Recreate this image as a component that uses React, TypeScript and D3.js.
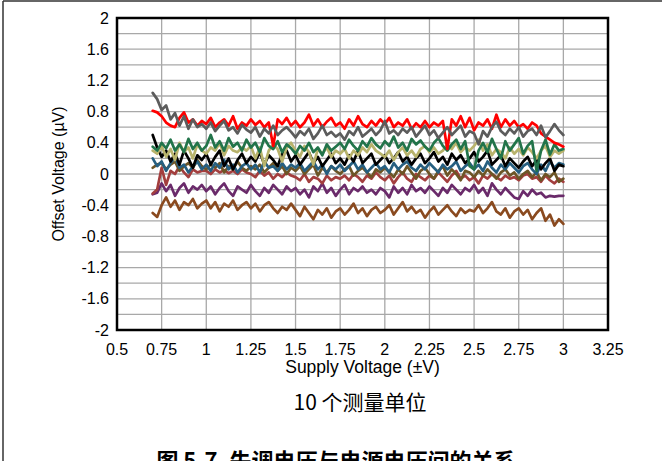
import React from "react";
import * as d3 from "d3";

// Supply voltage sampling (±V): first sample and spacing
const supplyStart = 0.7;
const supplyStep = 0.025;

const xTicks = [0.5, 0.75, 1, 1.25, 1.5, 1.75, 2, 2.25, 2.5, 2.75, 3, 3.25];
const xTickLabels = ["0.5", "0.75", "1", "1.25", "1.5", "1.75", "2", "2.25", "2.5", "2.75", "3", "3.25"];
const yTicks = [2, 1.6, 1.2, 0.8, 0.4, 0, -0.4, -0.8, -1.2, -1.6, -2];
const yTickLabels = ["2", "1.6", "1.2", "0.8", "0.4", "0", "-0.4", "-0.8", "-1.2", "-1.6", "-2"];
const yGridLines = [1.8, 1.6, 1.4, 1.2, 1, 0.8, 0.6, 0.4, 0.2, 0, -0.2, -0.4, -0.6, -0.8, -1, -1.2, -1.4, -1.6, -1.8];

const unitGray = [1.04, 0.96,
  0.82, 0.88, 0.70, 0.78, 0.62, 0.74, 0.58, 0.70, 0.60, 0.64,
  0.58, 0.66, 0.55, 0.62, 0.68, 0.56, 0.60, 0.52, 0.63, 0.57,
  0.53, 0.60, 0.48, 0.58, 0.52, 0.62, 0.50, 0.56, 0.60, 0.54,
  0.47, 0.55, 0.50, 0.58, 0.45, 0.52, 0.62, 0.50, 0.54, 0.48,
  0.52, 0.44, 0.55, 0.50, 0.60, 0.48, 0.53, 0.58, 0.50, 0.56,
  0.68, 0.52, 0.56, 0.50, 0.58, 0.53, 0.60, 0.48, 0.55, 0.62,
  0.50, 0.56, 0.46, 0.53, 0.60, 0.50, 0.56, 0.62, 0.48, 0.55,
  0.52, 0.38, 0.55, 0.48, 0.60, 0.67, 0.55, 0.50, 0.58, 0.52,
  0.60, 0.48, 0.55, 0.58, 0.50, 0.62, 0.47, 0.55, 0.64, 0.56,
  0.50];
const unitRed = [0.81, 0.79,
  0.74, 0.66, 0.62, 0.60, 0.72, 0.79, 0.66, 0.70, 0.62, 0.68,
  0.64, 0.72, 0.60, 0.66, 0.70, 0.62, 0.74, 0.58, 0.66, 0.62,
  0.70, 0.63, 0.68, 0.60, 0.66, 0.36, 0.70, 0.64, 0.72, 0.62,
  0.68, 0.60, 0.66, 0.76, 0.62, 0.70, 0.60, 0.67, 0.72, 0.62,
  0.66, 0.58, 0.70, 0.62, 0.74, 0.64, 0.60, 0.68, 0.62, 0.70,
  0.64, 0.72, 0.60, 0.66, 0.62, 0.70, 0.58, 0.65, 0.60, 0.68,
  0.60, 0.66, 0.62, 0.68, 0.32, 0.70, 0.62, 0.74, 0.60, 0.72,
  0.56, 0.66, 0.62, 0.70, 0.58, 0.76, 0.60, 0.70, 0.62, 0.68,
  0.60, 0.64, 0.58, 0.66, 0.62, 0.52, 0.48, 0.44, 0.40, 0.38,
  0.35];
const unitGreen = [0.35, 0.30,
  0.40, 0.33, 0.44, 0.30, 0.38, 0.28, 0.45, 0.32, 0.40, 0.30,
  0.36, 0.50, 0.34, 0.42, 0.30, 0.46, 0.35, 0.40, 0.30, 0.44,
  0.34, 0.40, 0.28, 0.46, 0.36, 0.32, 0.42, 0.28, 0.38, 0.33,
  0.26, 0.36, 0.30, 0.40, 0.28, 0.34, 0.24, 0.38, 0.30, 0.35,
  0.40, 0.32, 0.44, 0.36, 0.30, 0.42, 0.35, 0.46, 0.38, 0.33,
  0.42, 0.36, 0.48, 0.34, 0.40, 0.30, 0.45, 0.38, 0.43, 0.35,
  0.30, 0.40, 0.46, 0.36, 0.30, 0.38, 0.44, 0.32, 0.42, 0.10,
  0.06, 0.30, 0.40, 0.28, 0.45, 0.32, 0.20, 0.42, 0.30, 0.38,
  0.46, 0.26, 0.36, 0.42, 0.04, 0.30, 0.44, 0.25, 0.38, 0.30,
  0.32];
const unitKhaki = [0.30, 0.26,
  0.36, 0.22, 0.32, 0.18, 0.40, 0.28, 0.34, 0.20, 0.38, 0.30,
  0.26, 0.34, 0.30, 0.40, 0.24, 0.36, 0.30, 0.28, 0.34, 0.30,
  0.36, 0.20, 0.34, 0.10, 0.30, 0.38, 0.32, 0.16, 0.34, 0.40,
  0.30, 0.22, 0.36, 0.28, 0.12, 0.32, 0.26, 0.34, 0.22, 0.30,
  0.26, 0.32, 0.20, 0.30, 0.24, 0.34, 0.28, 0.38, 0.30, 0.26,
  0.22, 0.30, 0.18, 0.28, 0.34, 0.24, 0.30, 0.22, 0.32, 0.36,
  0.28, 0.34, 0.26, 0.30, 0.38, 0.32, 0.40, 0.28, 0.34, 0.30,
  0.36, 0.44, 0.30, 0.38, 0.24, 0.32, 0.28, 0.20, 0.34, 0.26,
  0.32, 0.24, 0.34, 0.28, 0.20, 0.30, 0.36, 0.22, 0.30, 0.26,
  0.30];
const unitBlack = [0.50, 0.34,
  0.22, 0.30, 0.16, 0.26, 0.12, 0.30, 0.20, 0.08, 0.24, 0.18,
  0.26, 0.12, 0.22, 0.30, 0.10, 0.20, 0.06, 0.18, 0.26, 0.14,
  0.22, 0.16, 0.28, 0.12, 0.24, 0.18, 0.10, 0.26, 0.30, 0.16,
  0.24, 0.12, 0.20, 0.28, 0.14, 0.22, 0.10, 0.18, 0.26, 0.14,
  0.20, 0.12, 0.24, 0.16, 0.30, 0.14, 0.20, 0.26, 0.12, 0.18,
  0.24, 0.14, 0.20, 0.28, 0.16, 0.22, 0.12, 0.20, 0.26, 0.14,
  0.20, 0.28, 0.16, 0.22, 0.12, 0.26, 0.18, 0.24, 0.14, 0.20,
  0.28, 0.16, 0.22, 0.30, 0.12, 0.18, 0.24, 0.10, 0.20, 0.14,
  0.08, 0.16, 0.22, 0.10, 0.18, 0.06, 0.14, 0.20, 0.04, 0.12,
  0.10];
const unitTeal = [0.20, 0.10,
  0.16, 0.04, 0.14, 0.22, 0.08, 0.12, 0.02, 0.10, 0.16, 0.06,
  0.12, 0.04, 0.14, 0.08, 0.18, 0.06, 0.12, 0.02, 0.10, 0.14,
  0.06, 0.12, 0.02, 0.16, 0.08, 0.10, 0.04, 0.14, 0.06, 0.12,
  0.08, 0.14, 0.04, 0.10, 0.16, 0.06, 0.12, 0.00, 0.10, 0.06,
  0.12, 0.04, 0.10, 0.16, 0.06, 0.12, 0.02, 0.08, 0.14, 0.06,
  0.10, 0.02, 0.14, 0.06, 0.12, 0.16, 0.08, 0.04, 0.12, 0.06,
  0.14, 0.08, 0.02, 0.12, 0.06, 0.10, 0.16, 0.04, 0.10, 0.14,
  0.06, 0.12, 0.04, 0.16, 0.08, 0.02, 0.12, 0.06, 0.14, 0.08,
  0.02, 0.10, 0.14, 0.06, 0.00, 0.12, 0.04, 0.16, 0.08, 0.14,
  0.12];
const unitOlive = [0.08, 0.12,
  0.14, 0.06, 0.12, 0.16, 0.04, 0.10, 0.14, 0.08, 0.18, 0.10,
  0.06, 0.12, 0.08, 0.14, 0.02, 0.10, 0.06, 0.16, 0.08, 0.04,
  0.10, 0.06, 0.12, 0.02, 0.08, 0.14, 0.04, 0.10, 0.00, 0.08,
  0.04, 0.10, 0.00, 0.06, 0.12, -0.02, 0.08, 0.02, 0.10, 0.04,
  0.00, 0.06, 0.10, -0.02, 0.04, 0.08, 0.02, -0.04, 0.06, 0.02,
  0.08, 0.02, -0.04, 0.06, 0.00, 0.10, 0.02, -0.06, 0.04, 0.08,
  0.00, -0.06, 0.04, 0.10, -0.02, 0.06, 0.00, -0.08, 0.04, 0.02,
  -0.04, 0.04, -0.02, 0.06, 0.00, -0.06, 0.02, 0.06, -0.02, 0.02,
  -0.06, 0.00, 0.04, -0.04, 0.02, -0.08, 0.00, -0.04, 0.02, -0.10,
  -0.06];
const unitMaroon = [-0.25, -0.20,
  0.08, -0.14, 0.04, 0.00, 0.10, 0.02, -0.04, 0.06, 0.02, 0.04,
  0.04, 0.00, 0.06, 0.02, 0.05, 0.01, 0.04, 0.00, 0.06, 0.02,
  0.00, -0.04, 0.04, -0.02, 0.02, -0.06, 0.00, -0.04, 0.02, -0.02,
  -0.04, -0.08, 0.00, -0.10, -0.04, -0.06, -0.12, -0.02, -0.08, -0.04,
  -0.06, -0.02, -0.08, 0.00, -0.04, -0.10, -0.02, -0.06, 0.02, -0.04,
  -0.08, -0.02, -0.12, -0.04, 0.02, -0.06, -0.10, 0.00, -0.04, -0.08,
  -0.02, -0.06, 0.02, -0.04, -0.10, -0.02, 0.04, -0.06, -0.02, -0.08,
  -0.04, -0.12, -0.02, -0.06, 0.00, -0.04, -0.08, -0.02, -0.06, -0.04,
  -0.08, -0.02, 0.00, -0.06, -0.04, -0.10, -0.02, -0.08, -0.12, -0.06,
  -0.10];
const unitPurple = [-0.26, -0.24,
  -0.12, -0.22, -0.14, -0.28, -0.18, -0.12, -0.24, -0.16, -0.20, -0.14,
  -0.22, -0.16, -0.26, -0.18, -0.12, -0.22, -0.28, -0.16, -0.20, -0.24,
  -0.14, -0.22, -0.28, -0.18, -0.24, -0.14, -0.20, -0.26, -0.16, -0.22,
  -0.18, -0.26, -0.20, -0.30, -0.16, -0.22, -0.12, -0.24, -0.18, -0.28,
  -0.20, -0.14, -0.26, -0.18, -0.22, -0.16, -0.24, -0.20, -0.26, -0.18,
  -0.22, -0.30, -0.16, -0.24, -0.18, -0.26, -0.14, -0.22, -0.18, -0.24,
  -0.16, -0.22, -0.28, -0.18, -0.24, -0.14, -0.20, -0.26, -0.18, -0.22,
  -0.14, -0.24, -0.18, -0.28, -0.12, -0.20, -0.26, -0.18, -0.24, -0.30,
  -0.32, -0.22, -0.28, -0.20, -0.26, -0.24, -0.30, -0.28, -0.29, -0.28,
  -0.28];
const unitSienna = [-0.50, -0.55,
  -0.40, -0.30, -0.42, -0.34, -0.46, -0.36, -0.40, -0.32, -0.44, -0.38,
  -0.34, -0.44, -0.36, -0.48, -0.38, -0.42, -0.34, -0.46, -0.40, -0.36,
  -0.44, -0.38, -0.48, -0.40, -0.36, -0.44, -0.50, -0.42, -0.46, -0.38,
  -0.46, -0.54, -0.42, -0.50, -0.58, -0.46, -0.52, -0.44, -0.56, -0.48,
  -0.44, -0.52, -0.46, -0.38, -0.50, -0.44, -0.54, -0.46, -0.42, -0.50,
  -0.46, -0.40, -0.52, -0.44, -0.36, -0.48, -0.42, -0.50, -0.46, -0.56,
  -0.48, -0.42, -0.52, -0.46, -0.40, -0.48, -0.54, -0.44, -0.50, -0.46,
  -0.48, -0.40, -0.50, -0.44, -0.36, -0.48, -0.52, -0.44, -0.56, -0.48,
  -0.44, -0.52, -0.46, -0.58, -0.50, -0.44, -0.60, -0.52, -0.66, -0.58,
  -0.64];

const seriesList = [unitSienna, unitPurple, unitMaroon, unitOlive, unitTeal, unitBlack, unitKhaki, unitGreen, unitRed, unitGray];
const seriesColors = ["#8a4a1f", "#6a2a6a", "#a33e3e", "#6d5526", "#265f80", "#000000", "#b8b36c", "#22744a", "#ff0000", "#5c5c5c"];

const W = 662;
const H = 461;
const plot = { left: 117, right: 608, top: 18, bottom: 330 };

export default function App() {
  const x = d3.scaleLinear().domain([0.5, 3.25]).range([plot.left, plot.right]);
  const y = d3.scaleLinear().domain([-2, 2]).range([plot.bottom, plot.top]);
  const line = d3
    .line<number>()
    .x((_, i) => x(supplyStart + i * supplyStep))
    .y((d) => y(d));
  const font = "'Liberation Sans', Arial, sans-serif";
  const cjk = "'Noto Sans CJK SC', sans-serif";
  return (
    <svg
      width={W}
      height={H}
      viewBox={`0 0 ${W} ${H}`}
      style={{ position: "absolute", left: 0, top: 0, background: "#fff" }}
    >
      <rect x={0} y={0} width={W} height={H} fill="#fff" />
      <line x1={3} y1={1} x2={W} y2={1} stroke="#333" strokeWidth={1.5} />
      <line x1={3} y1={1} x2={3} y2={H} stroke="#333" strokeWidth={1.5} />
      {yGridLines.map((v) => (
        <line key={"h" + v} x1={plot.left} x2={plot.right} y1={y(v)} y2={y(v)} stroke="#a8a8a8" strokeWidth={1.3} />
      ))}
      {xTicks.slice(1, -1).map((v) => (
        <line key={"v" + v} x1={x(v)} x2={x(v)} y1={plot.top} y2={plot.bottom} stroke="#a8a8a8" strokeWidth={1.3} />
      ))}
      {seriesList.map((s, i) => (
        <path
          key={i}
          d={line(s) || ""}
          fill="none"
          stroke={seriesColors[i]}
          strokeWidth={2.7}
          strokeLinejoin="round"
          strokeLinecap="round"
        />
      ))}
      <rect
        x={plot.left}
        y={plot.top}
        width={plot.right - plot.left}
        height={plot.bottom - plot.top}
        fill="none"
        stroke="#000"
        strokeWidth={2.5}
      />
      {yTicks.map((v, i) => (
        <text key={"yt" + v} x={109} y={y(v) + 5.5} textAnchor="end" fontFamily={font} fontSize={16} fill="#000">
          {yTickLabels[i]}
        </text>
      ))}
      {xTicks.map((v, i) => (
        <text key={"xt" + v} x={x(v)} y={355} textAnchor="middle" fontFamily={font} fontSize={16} fill="#000">
          {xTickLabels[i]}
        </text>
      ))}
      <text x={(plot.left + plot.right) / 2} y={373} textAnchor="middle" fontFamily={font} fontSize={17.5} fill="#000">
        Supply Voltage (±V)
      </text>
      <text
        transform={`translate(64, ${(plot.top + plot.bottom) / 2}) rotate(-90)`}
        textAnchor="middle"
        fontFamily={font}
        fontSize={16}
        fill="#000"
      >
        Offset Voltage (µV)
      </text>
      <text x={360} y={410} textAnchor="middle" fontFamily={cjk} fontSize={21} fill="#000">
        10 个测量单位
      </text>
      <text x={336} y={469} textAnchor="middle" fontFamily={cjk} fontSize={22} fontWeight="bold" fill="#000">
        图 5-7. 失调电压与电源电压间的关系
      </text>
    </svg>
  );
}
